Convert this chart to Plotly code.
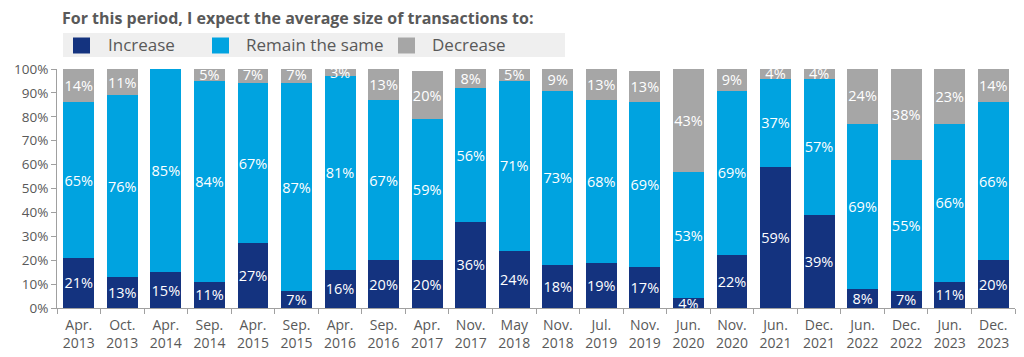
import plotly.graph_objects as go

categories = ["Apr.<br>2013", "Oct.<br>2013", "Apr.<br>2014", "Sep.<br>2014", "Apr.<br>2015",
              "Sep.<br>2015", "Apr.<br>2016", "Sep.<br>2016", "Apr.<br>2017", "Nov.<br>2017",
              "May<br>2018", "Nov.<br>2018", "Jul.<br>2019", "Nov.<br>2019", "Jun.<br>2020",
              "Nov.<br>2020", "Jun.<br>2021", "Dec.<br>2021", "Jun.<br>2022", "Dec.<br>2022",
              "Jun.<br>2023", "Dec.<br>2023"]
increase = [21, 13, 15, 11, 27, 7, 16, 20, 20, 36, 24, 18, 19, 17, 4, 22, 59, 39, 8, 7, 11, 20]
remain = [65, 76, 85, 84, 67, 87, 81, 67, 59, 56, 71, 73, 68, 69, 53, 69, 37, 57, 69, 55, 66, 66]
decrease = [14, 11, 0, 5, 7, 7, 3, 13, 20, 8, 5, 9, 13, 13, 43, 9, 4, 4, 24, 38, 23, 14]
series_names = ["Increase", "Remain the same", "Decrease"]
colors = ["#14337F", "#00A3E0", "#A6A6A6"]
y_ticks = [0, 10, 20, 30, 40, 50, 60, 70, 80, 90, 100]
title_text = "For this period, I expect the average size of transactions to:"

OFF = 8  # default page body margin
W, H = 1024 - OFF, 357 - OFF
# target pixel positions in the window
PL, PR, PT, PB = 57, 1015, 69, 308
ML, MR, MT, MB = PL - OFF, (W + OFF) - PR, PT - OFF, (H + OFF) - PB
PW, PH = PR - PL, PB - PT


def px_x(p):
    return (p - PL) / PW


def px_y(p):
    return (PB - p) / PH


fig = go.Figure()
for name, vals, col in zip(series_names, [increase, remain, decrease], colors):
    fig.add_trace(go.Bar(
        x=categories, y=vals, name=name, marker=dict(color=col, line=dict(width=0)),
        text=[f"{v}%" if v > 0 else "" for v in vals],
        textposition="inside", insidetextanchor="middle", textangle=0,
        textfont=dict(color="white", size=14.5, family="Open Sans"),
        showlegend=False, cliponaxis=True,
    ))

fig.update_layout(
    barmode="stack", bargap=0.29,
    width=W, height=H,
    margin=dict(l=ML, r=MR, t=MT, b=MB, pad=0),
    plot_bgcolor="white", paper_bgcolor="white",
    font=dict(family="Open Sans", color="#595959"),
    uniformtext=dict(mode="show", minsize=14.5),
    xaxis=dict(type="category", showgrid=False, showline=True, linecolor="#A0A0A0", linewidth=1,
               ticks="outside", tickson="boundaries", ticklen=5, tickcolor="#A0A0A0",
               ticklabelstandoff=4, automargin=False,
               tickfont=dict(size=14, color="#595959")),
    yaxis=dict(range=[0, 100], tickvals=y_ticks, ticktext=[f"{v}%" for v in y_ticks],
               showgrid=False, showline=True, linecolor="#A0A0A0", linewidth=1,
               ticks="outside", ticklen=5, tickcolor="#A0A0A0", automargin=False,
               tickfont=dict(size=13.5, color="#595959"), zeroline=False),
)

# Title
fig.add_annotation(x=px_x(60), y=px_y(17.5), xref="paper", yref="paper", xanchor="left", yanchor="middle",
                   text=f"<b>{title_text}</b>", showarrow=False,
                   font=dict(size=16, color="#595959", family="Open Sans"))

# Legend (manual)
fig.add_shape(type="rect", xref="paper", yref="paper", x0=px_x(63), x1=px_x(565), y0=px_y(57), y1=px_y(33),
              fillcolor="#EFEFEF", line=dict(width=0), layer="below")
leg_sq = [73, 212, 398]
leg_tx = [106, 244, 430]
for name, col, sx, tx in zip(series_names, colors, leg_sq, leg_tx):
    fig.add_shape(type="rect", xref="paper", yref="paper", x0=px_x(sx), x1=px_x(sx + 17),
                  y0=px_y(53.5), y1=px_y(37.5), fillcolor=col, line=dict(width=0))
    fig.add_annotation(x=px_x(tx), y=px_y(45), xref="paper", yref="paper", xanchor="left", yanchor="middle",
                       text=name, showarrow=False, font=dict(size=17, color="#595959", family="Open Sans"))

fig.write_html("out.html")
